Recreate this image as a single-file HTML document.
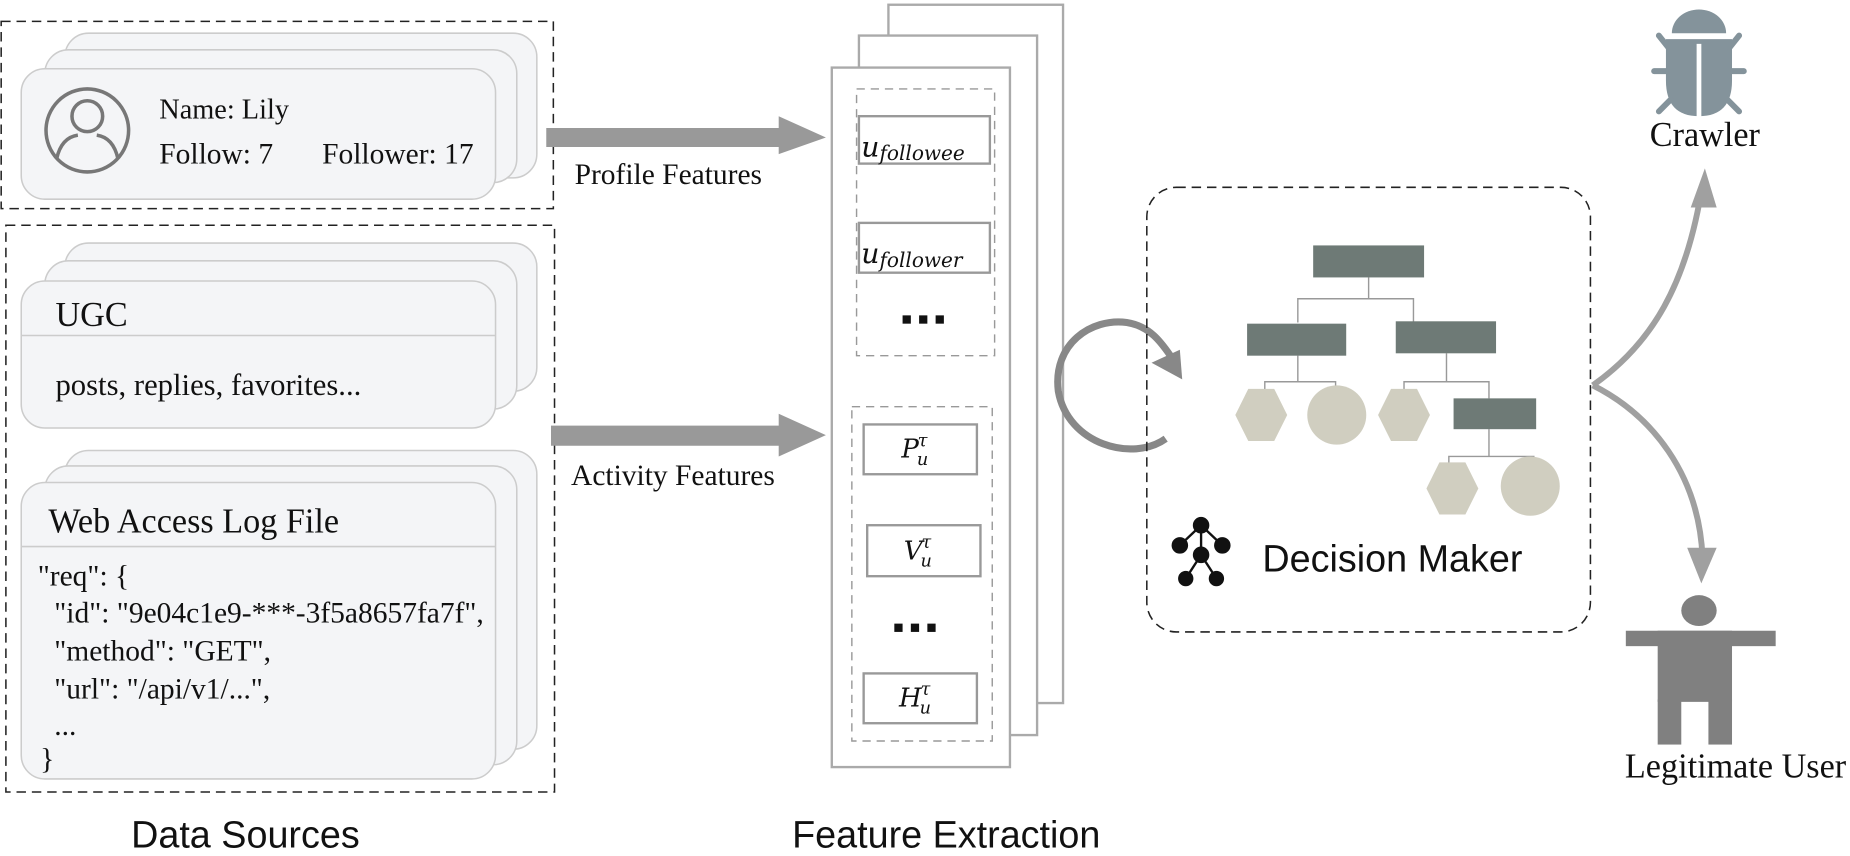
<!DOCTYPE html>
<html><head><meta charset="utf-8"><style>
html,body{margin:0;padding:0;background:#fff;}
svg{display:block;}
.s{font-family:"Liberation Serif",serif;fill:#111;}
.a{font-family:"Liberation Sans",sans-serif;fill:#111;}
.m{font-family:"DejaVu Serif","Liberation Serif",serif;font-style:italic;fill:#111;}
</style></head><body>
<svg width="1850" height="856" viewBox="0 0 1568 722" preserveAspectRatio="none" xmlns="http://www.w3.org/2000/svg">
<rect x="1" y="18" width="468" height="158" fill="none" stroke="#222" stroke-width="1.3" stroke-dasharray="8,5"/>
<rect x="5" y="190" width="465" height="478" fill="none" stroke="#222" stroke-width="1.3" stroke-dasharray="8,5"/>
<g fill="#f4f5f7" stroke="#ccc" stroke-width="1.3">
<rect x="55" y="28" width="400" height="122" rx="20"/>
<rect x="38" y="42" width="400" height="112" rx="20"/>
<rect x="18" y="58" width="402" height="110" rx="20"/>
<rect x="55" y="205" width="400" height="125" rx="20"/>
<rect x="38" y="220" width="400" height="125" rx="20"/>
<rect x="18" y="237" width="402" height="124" rx="20"/>
<rect x="55" y="380" width="400" height="252" rx="20"/>
<rect x="38" y="393" width="400" height="252" rx="20"/>
<rect x="18" y="407" width="402" height="250" rx="20"/>
</g>
<line x1="18" y1="283" x2="420" y2="283" stroke="#ccc" stroke-width="1.3"/>
<line x1="18" y1="461" x2="420" y2="461" stroke="#ccc" stroke-width="1.3"/>
<g fill="none" stroke="#777" stroke-width="3">
<circle cx="74" cy="110" r="35"/>
<circle cx="74" cy="98" r="13"/>
<path d="M48 134 Q52 116 66 114 M100 134 Q96 116 82 114"/>
</g>
<text class="s" x="135" y="100" font-size="24">Name: Lily</text>
<text class="s" x="135" y="138" font-size="25">Follow: 7</text>
<text class="s" x="273" y="138" font-size="25">Follower: 17</text>
<text class="s" x="47" y="275" font-size="29">UGC</text>
<text class="s" x="47" y="333" font-size="26">posts, replies, favorites...</text>
<text class="s" x="41" y="449" font-size="29">Web Access Log File</text>
<g class="s" font-size="25">
<text x="32" y="494">"req": {</text>
<text x="46" y="525">"id": "9e04c1e9-***-3f5a8657fa7f",</text>
<text x="46" y="557">"method": "GET",</text>
<text x="46" y="589">"url": "/api/v1/...",</text>
<text x="46" y="620">...</text>
<text x="34" y="648">}</text>
</g>
<g fill="#999">
<polygon points="463,108 660,108 660,98 700,116 660,130 660,124 463,124"/>
<polygon points="467,359 660,359 660,349 700,367 660,385 660,376 467,376"/>
</g>
<text class="s" x="487" y="155" font-size="25">Profile Features</text>
<text class="s" x="484" y="409" font-size="25">Activity Features</text>
<g fill="#fff" stroke="#aaa" stroke-width="2">
<rect x="753" y="4" width="148" height="589"/>
<rect x="728" y="30" width="151" height="590"/>
<rect x="705" y="57" width="151" height="590"/>
</g>
<g fill="none" stroke="#999" stroke-width="1.2" stroke-dasharray="7,5">
<rect x="726" y="75" width="117" height="225"/>
<rect x="722" y="343" width="119" height="282"/>
</g>
<g fill="#fff" stroke="#999" stroke-width="2">
<rect x="728" y="98" width="111" height="40"/>
<rect x="728" y="188" width="111" height="42"/>
<rect x="732" y="358" width="96" height="42"/>
<rect x="735" y="443" width="96" height="43"/>
<rect x="732" y="568" width="96" height="42"/>
</g>
<text class="m" x="730" y="132" font-size="24">u<tspan font-size="17" dy="3">followee</tspan></text>
<text class="m" x="730" y="222" font-size="24">u<tspan font-size="17" dy="3">follower</tspan></text>
<text class="m" x="764" y="386" font-size="22">P<tspan font-size="15" dx="-1" dy="-10">τ</tspan><tspan font-size="15" dx="-9" dy="16">u</tspan></text>
<text class="m" x="766" y="472" font-size="22">V<tspan font-size="15" dx="-1" dy="-10">τ</tspan><tspan font-size="15" dx="-9" dy="16">u</tspan></text>
<text class="m" x="762" y="596" font-size="22">H<tspan font-size="15" dx="-1" dy="-10">τ</tspan><tspan font-size="15" dx="-9" dy="16">u</tspan></text>
<g fill="#111">
<rect x="765" y="266" width="7" height="7"/><rect x="779" y="266" width="7" height="7"/><rect x="793" y="266" width="7" height="7"/>
<rect x="758" y="526" width="7" height="7"/><rect x="772" y="526" width="7" height="7"/><rect x="786" y="526" width="7" height="7"/>
</g>
<text class="a" x="208" y="715" font-size="32" text-anchor="middle">Data Sources</text>
<text class="a" x="802" y="715" font-size="32" text-anchor="middle">Feature Extraction</text>
<path d="M988 370 C960 390 905 375 897 330 C892 290 925 268 955 272 C975 275 985 290 992 300" fill="none" stroke="#888" stroke-width="6"/>
<polygon points="976,306 1000,295 1002,320" fill="#888"/>
<rect x="972" y="158" width="376" height="375" rx="25" fill="none" stroke="#222" stroke-width="1.3" stroke-dasharray="8,5"/>
<g stroke="#999" stroke-width="1.2" fill="none">
<path d="M1160 234 V252 M1100 272 V252 H1198 V272"/>
<path d="M1100 300 V322 M1072 330 V322 H1132 V330"/>
<path d="M1226 298 V322 M1190 330 V322 H1262 V336"/>
<path d="M1262 362 V385 M1228 392 V385 H1300 V392"/>
</g>
<g fill="#6e7a76">
<rect x="1113" y="207" width="94" height="27"/>
<rect x="1057" y="273" width="84" height="27"/>
<rect x="1183" y="271" width="85" height="27"/>
<rect x="1232" y="336" width="70" height="26"/>
</g>
<g fill="#d0cec0">
<polygon points="1058,328 1080,328 1091,350 1080,372 1058,372 1047,350"/>
<circle cx="1133" cy="350" r="25"/>
<polygon points="1179,328 1201,328 1212,350 1201,372 1179,372 1168,350"/>
<polygon points="1220,390 1242,390 1253,412 1242,434 1220,434 1209,412"/>
<circle cx="1297" cy="410" r="25"/>
</g>
<g stroke="#111" stroke-width="2" fill="#111">
<line x1="1018" y1="443" x2="1018" y2="468"/>
<line x1="1018" y1="443" x2="1000" y2="460"/><line x1="1018" y1="443" x2="1036" y2="460"/>
<line x1="1018" y1="468" x2="1005" y2="488"/><line x1="1018" y1="468" x2="1031" y2="488"/>
<circle cx="1018" cy="443" r="6"/><circle cx="1000" cy="460" r="6"/><circle cx="1036" cy="460" r="6"/>
<circle cx="1018" cy="468" r="6"/><circle cx="1005" cy="488" r="5.5"/><circle cx="1031" cy="488" r="5.5"/>
</g>
<text class="a" x="1070" y="482" font-size="32">Decision Maker</text>
<path d="M1350 325 C1400 290 1430 240 1443 155" fill="none" stroke="#a0a0a0" stroke-width="5"/>
<polygon points="1433,175 1445,142 1455,175" fill="#a0a0a0"/>
<path d="M1350 325 C1400 350 1440 400 1443 470" fill="none" stroke="#a0a0a0" stroke-width="5"/>
<polygon points="1430,462 1442,492 1455,462" fill="#a0a0a0"/>
<g fill="#84939b" stroke="#84939b">
<path d="M1417 28 A23 20 0 0 1 1463 28 Z" stroke="none"/>
<path d="M1412 32 H1468 V68 Q1468 98 1440 98 Q1412 98 1412 68 Z" stroke="none"/>
<g stroke-width="5" stroke-linecap="round" fill="none">
<line x1="1412" y1="60" x2="1402" y2="60"/><line x1="1468" y1="60" x2="1478" y2="60"/>
<line x1="1414" y1="40" x2="1406" y2="30"/><line x1="1466" y1="40" x2="1474" y2="30"/>
<line x1="1416" y1="84" x2="1406" y2="94"/><line x1="1464" y1="84" x2="1474" y2="94"/>
</g>
</g>
<rect x="1438" y="37" width="4" height="62" fill="#fff"/>
<rect x="1412" y="30" width="56" height="3" fill="#fff"/>
<text class="s" x="1445" y="123" font-size="29" text-anchor="middle">Crawler</text>
<g fill="#808080">
<ellipse cx="1440" cy="515" rx="15" ry="13"/>
<rect x="1378" y="532" width="127" height="13"/>
<rect x="1405" y="532" width="63" height="60"/>
<rect x="1405" y="590" width="20" height="38"/>
<rect x="1448" y="590" width="20" height="38"/>
</g>
<text class="s" x="1471" y="656" font-size="29" text-anchor="middle">Legitimate User</text>
</svg>
</body></html>
